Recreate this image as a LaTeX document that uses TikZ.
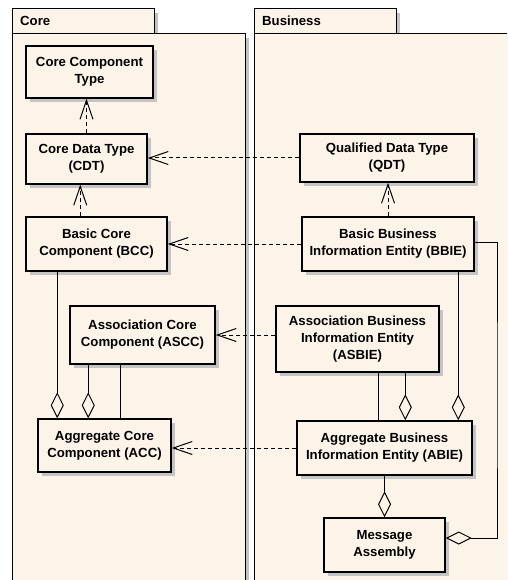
\documentclass[tikz,border=0pt]{standalone}
\usepackage{fontspec}
\setmainfont{Liberation Sans}
\usetikzlibrary{arrows.meta,shadows}
\definecolor{cream}{HTML}{FCF4E9}
\definecolor{shade}{HTML}{C4C4C4}
\begin{document}
\begin{tikzpicture}[x=1pt,y=-1pt,
  lbl/.style={font=\bfseries\fontsize{13.2}{17}\selectfont},
  pkg/.style={draw=black, line width=1pt, fill=cream},
  pkgshadow/.style={fill=shade, draw=none},
  box/.style={draw=black, line width=1.5pt, fill=cream, align=center, inner sep=0pt,
    font=\bfseries\fontsize{13.2}{17}\selectfont,
    drop shadow={shadow xshift=4pt, shadow yshift=-4pt, fill=shade, opacity=1, draw=none}},
  dep/.style={line width=1pt, dash pattern=on 4pt off 3pt, -{Straight Barb[length=19pt,width=13pt]}},
  agg/.style={line width=1pt, -{Diamond[length=26pt,width=13pt,fill=cream]}},
  plainline/.style={line width=1pt}]
\useasboundingbox (0,0) rectangle (507,580);
\clip (0,0) rectangle (507,580);
\fill[white] (0,0) rectangle (507,580);
% packages
\fill[pkgshadow] (16,13) rectangle (158,38);
\fill[pkgshadow] (16,38) rectangle (249,620);
\fill[pkgshadow] (258,13) rectangle (400,38);
\fill[pkgshadow] (258,38) rectangle (560,620);
\draw[pkg] (12,34) rectangle (245,610);
\draw[pkg] (12,9) rectangle (154,34);
\draw[pkg] (254,34) rectangle (550,610);
\draw[pkg] (254,9) rectangle (396,34);
\node[lbl, anchor=base west, inner sep=0pt] (coreT) at (20,26) {Core};
\node[lbl, anchor=base west, inner sep=0pt] (busT) at (262,26) {Business};
% nodes
\node[box, minimum width=127pt, minimum height=52pt] (cct) at (89.5,72) {Core Component\\Type};
\node[box, minimum width=121pt, minimum height=50pt] (cdt) at (86.5,159) {Core Data Type\\(CDT)};
\node[box, minimum width=174pt, minimum height=48pt] (qdt) at (387,158) {Qualified Data Type\\(QDT)};
\node[box, minimum width=141pt, minimum height=54pt] (bcc) at (96.5,244) {Basic Core\\Component (BCC)};
\node[box, minimum width=145pt, minimum height=58pt] (ascc) at (142.5,335) {Association Core\\Component (ASCC)};
\node[box, minimum width=172pt, minimum height=54pt] (bbie) at (388,244) {Basic Business\\Information Entity (BBIE)};
\node[box, minimum width=163pt, minimum height=66pt] (asbie) at (357.5,339) {Association Business\\Information Entity\\(ASBIE)};
\node[box, minimum width=133pt, minimum height=53pt] (acc) at (104.5,445.5) {Aggregate Core\\Component (ACC)};
\node[box, minimum width=175pt, minimum height=54pt] (abie) at (384.5,448) {Aggregate Business\\Information Entity (ABIE)};
\node[box, minimum width=121pt, minimum height=54pt] (ma) at (384.5,545) {Message\\Assembly};
\coordinate (rt) at (497,400);
% dependencies
\draw[dep] (cdt.north) -- (cdt.north |- cct.south);
\draw[dep] (qdt.west) -- (qdt.west -| cdt.east);
\draw[dep] ([xshift=55pt]bcc.north west) -- ([xshift=55pt]cdt.south west);
\draw[dep] (bbie.north) -- (bbie.north |- qdt.south);
\draw[dep] (bbie.west) -- (bbie.west -| bcc.east);
\draw[dep] (ascc.east -| asbie.west) -- (ascc.east);
\draw[dep] (abie.west) -- (abie.west -| acc.east);
% aggregations
\draw[agg] ([xshift=32pt]bcc.south west) -- ([xshift=20pt]acc.north west);
\draw[agg] ([xshift=19pt]ascc.south west) -- ([xshift=51pt]acc.north west);
\draw[plainline] ([xshift=51pt]ascc.south west) -- ([xshift=83pt]acc.north west);
\draw[plainline] ([xshift=103pt]asbie.south west) -- ([xshift=82pt]abie.north west);
\draw[agg] ([xshift=130pt]asbie.south west) -- ([xshift=109pt]abie.north west);
\draw[agg] ([xshift=157pt]bbie.south west) -- ([xshift=162pt]abie.north west);
\draw[agg] (abie.south) -- (ma.north);
\draw[agg] ([yshift=2pt]bbie.east) -| (rt) |- ([yshift=7pt]ma.east);
\end{tikzpicture}
\end{document}
